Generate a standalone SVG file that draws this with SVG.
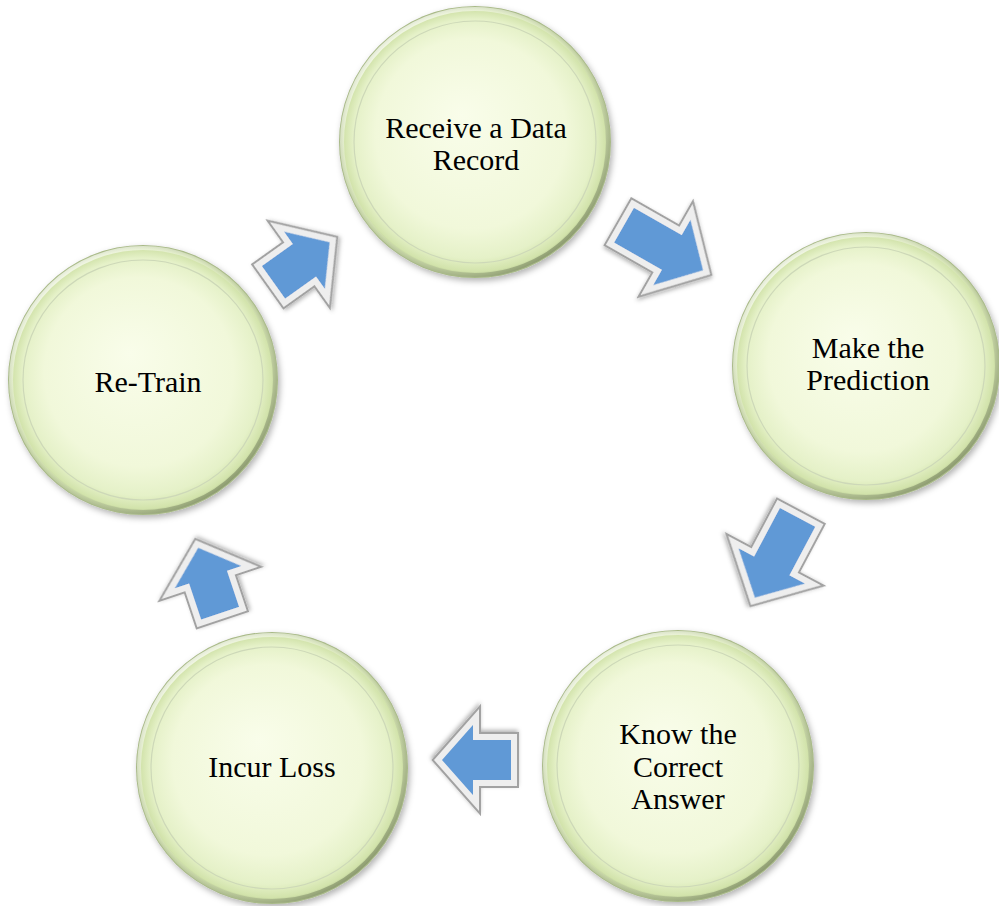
<svg xmlns="http://www.w3.org/2000/svg" xmlns:xlink="http://www.w3.org/1999/xlink" width="999" height="906" viewBox="0 0 999 906">
<style>
.lbl{font-family:"Liberation Serif","Times New Roman",serif;font-size:30px;fill:#000;text-anchor:middle}
.disc{fill:url(#discFill);filter:url(#shadow)}
.rim{fill:none;stroke:url(#rimGrad);stroke-width:4}
.ring{fill:none;stroke:#cdd8b8;stroke-width:1.2}
.aOut{fill:none;stroke:#a2a2a2;stroke-width:10;stroke-linejoin:miter}
.aMid{fill:#6199d6;stroke:#eeeeee;stroke-width:6;stroke-linejoin:miter}
</style>
<defs>
<radialGradient id="discFill" cx="0.5" cy="0.5" r="0.5" fx="0.45" fy="0.4">
<stop offset="0" stop-color="#f9fdea"/>
<stop offset="0.7" stop-color="#f1f8da"/>
<stop offset="0.88" stop-color="#e5f1c8"/>
<stop offset="0.96" stop-color="#d2e3ab"/>
<stop offset="1" stop-color="#a4b584"/>
</radialGradient>
<linearGradient id="rimGrad" x1="0.15" y1="0.1" x2="0.85" y2="0.95">
<stop offset="0" stop-color="#ffffff" stop-opacity="0.7"/>
<stop offset="0.5" stop-color="#dfe9c6" stop-opacity="0.3"/>
<stop offset="1" stop-color="#6f7d55" stop-opacity="0.7"/>
</linearGradient>
<filter id="shadow" x="-20%" y="-20%" width="140%" height="140%">
<feDropShadow dx="2" dy="3" stdDeviation="3" flood-color="#000" flood-opacity="0.3"/>
</filter>
<filter id="ashadow" x="-30%" y="-30%" width="160%" height="160%">
<feDropShadow dx="1" dy="2" stdDeviation="2" flood-color="#000" flood-opacity="0.3"/>
</filter>
<path id="pS" d="M-38,-23 L0,-23 L0,-43 L38,0 L0,43 L0,23 L-38,23 Z"/>
<path id="pL" d="M-49,-23 L6,-23 L6,-45 L49,0 L6,45 L6,23 L-49,23 Z"/>
<g id="arrS" filter="url(#ashadow)">
<use xlink:href="#pS" class="aOut"/>
<use xlink:href="#pS" class="aMid"/>
</g>
<g id="arrL" filter="url(#ashadow)">
<use xlink:href="#pL" class="aOut"/>
<use xlink:href="#pL" class="aMid"/>
</g>
</defs>
<rect width="999" height="906" fill="#ffffff"/>

<g id="connectors">
<use id="a1" xlink:href="#arrS" transform="translate(302,262) rotate(-35.5)"/>
<use id="a2" xlink:href="#arrL" transform="translate(664,248) rotate(29.7)"/>
<use id="a3" xlink:href="#arrL" transform="translate(776,558) rotate(118)"/>
<use id="a4" xlink:href="#arrS" transform="translate(476,760) rotate(180)"/>
<use id="a5" xlink:href="#arrS" transform="translate(209,580) rotate(-108.5)"/>
</g>

<g id="n1">
<circle class="disc" cx="475" cy="142" r="136"/>
<circle class="rim" cx="475" cy="142" r="133"/>
<circle class="ring" cx="475" cy="142" r="121"/>
<text class="lbl" x="476" y="138">Receive a Data</text>
<text class="lbl" x="476" y="170">Record</text>
</g>
<g id="n2">
<circle class="disc" cx="866" cy="366" r="134"/>
<circle class="rim" cx="866" cy="366" r="131"/>
<circle class="ring" cx="866" cy="366" r="119"/>
<text class="lbl" x="868" y="358">Make the</text>
<text class="lbl" x="868" y="390">Prediction</text>
</g>
<g id="n3">
<circle class="disc" cx="678" cy="766" r="136"/>
<circle class="rim" cx="678" cy="766" r="133"/>
<circle class="ring" cx="678" cy="766" r="121"/>
<text class="lbl" x="678" y="744">Know the</text>
<text class="lbl" x="678" y="777">Correct</text>
<text class="lbl" x="678" y="809">Answer</text>
</g>
<g id="n4">
<circle class="disc" cx="272" cy="768" r="136"/>
<circle class="rim" cx="272" cy="768" r="133"/>
<circle class="ring" cx="272" cy="768" r="121"/>
<text class="lbl" x="272" y="777">Incur Loss</text>
</g>
<g id="n5">
<circle class="disc" cx="143" cy="380" r="135"/>
<circle class="rim" cx="143" cy="380" r="132"/>
<circle class="ring" cx="143" cy="380" r="120"/>
<text class="lbl" x="148" y="392">Re-Train</text>
</g>
</svg>
